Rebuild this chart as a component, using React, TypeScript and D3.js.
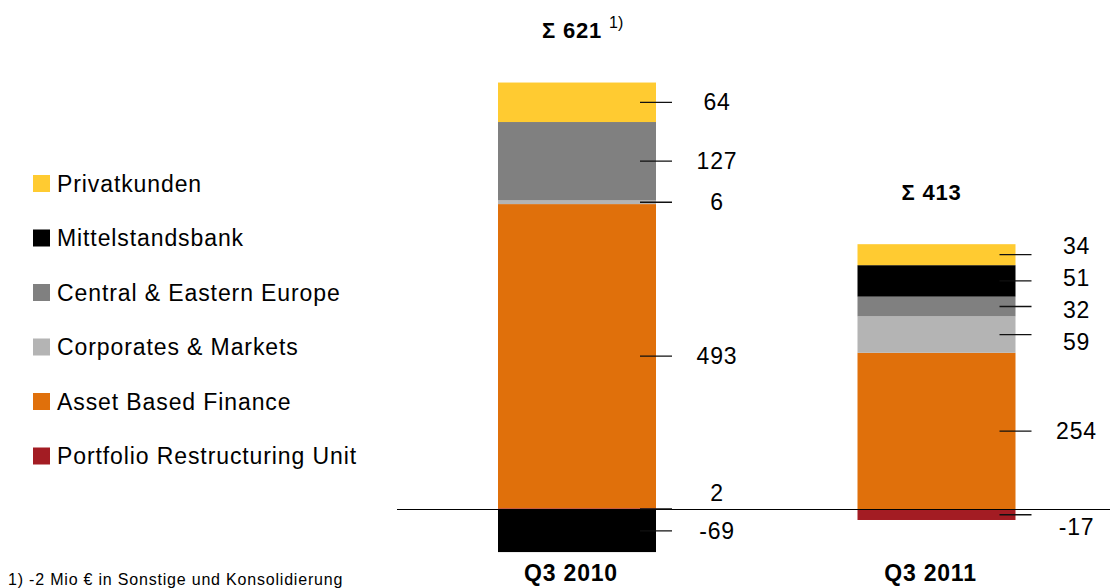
import React from "react";
import * as d3 from "d3";

const categories = ["Q3 2010", "Q3 2011"];
const segments = [
  "Portfolio Restructuring Unit",
  "Asset Based Finance",
  "Corporates & Markets",
  "Central & Eastern Europe",
  "Mittelstandsbank",
  "Privatkunden",
];
const legendOrder = [
  "Privatkunden",
  "Mittelstandsbank",
  "Central & Eastern Europe",
  "Corporates & Markets",
  "Asset Based Finance",
  "Portfolio Restructuring Unit",
];
const privatkunden = [64, 34];
const mittelstandsbank = [-69, 51];
const centralEasternEurope = [127, 32];
const corporatesMarkets = [6, 59];
const assetBasedFinance = [493, 254];
const portfolioRestructuring = [2, -17];
const totals = [621, 413];
const totalNotes = ["1)", ""];
const footnote = "1) -2 Mio € in Sonstige und Konsolidierung";

const colors: Record<string, string> = {
  "Privatkunden": "#FFCB31",
  "Mittelstandsbank": "#000000",
  "Central & Eastern Europe": "#808080",
  "Corporates & Markets": "#B4B4B4",
  "Asset Based Finance": "#E0700B",
  "Portfolio Restructuring Unit": "#A31C23",
};

const W = 1110;
const H = 588;
const FONT = "'Liberation Sans', Arial, Helvetica, sans-serif";

function spread(items: { y: number; key: string }[], gap: number) {
  const sorted = [...items].sort((a, b) => a.y - b.y);
  let clusters = sorted.map((d) => ({ items: [d], center: d.y }));
  let changed = true;
  while (changed) {
    changed = false;
    for (let i = 0; i < clusters.length - 1; i++) {
      const a = clusters[i];
      const b = clusters[i + 1];
      const aEnd = a.center + ((a.items.length - 1) * gap) / 2;
      const bStart = b.center - ((b.items.length - 1) * gap) / 2;
      if (bStart - aEnd < gap) {
        const items2 = [...a.items, ...b.items];
        const center = d3.mean(items2, (d) => d.y)!;
        clusters.splice(i, 2, { items: items2, center });
        changed = true;
        break;
      }
    }
  }
  const out: Record<string, number> = {};
  clusters.forEach((c) => {
    c.items.forEach((d, i) => {
      out[d.key] = c.center + (i - (c.items.length - 1) / 2) * gap;
    });
  });
  return out;
}

export default function App() {
  const rows = categories.map((c, i) => ({
    category: c,
    "Privatkunden": privatkunden[i],
    "Mittelstandsbank": mittelstandsbank[i],
    "Central & Eastern Europe": centralEasternEurope[i],
    "Corporates & Markets": corporatesMarkets[i],
    "Asset Based Finance": assetBasedFinance[i],
    "Portfolio Restructuring Unit": portfolioRestructuring[i],
  }));

  const stack = d3
    .stack<any>()
    .keys(segments)
    .offset(d3.stackOffsetDiverging);
  const series = stack(rows);

  const x = d3
    .scaleBand<string>()
    .domain(categories)
    .range([426.1, 1087.4])
    .paddingInner(0.5605)
    .paddingOuter(0.2);
  const y = d3.scaleLinear().domain([-100, 700]).range([571.2, 77.6]);
  const bw = x.bandwidth();
  const base = y(0);

  const labelData = categories.map((c, i) => {
    const items = series.map((s) => {
      const d = s[i];
      const v = (rows[i] as any)[s.key] as number;
      let ty = y((d[0] + d[1]) / 2);
      let ly = ty;
      if (v >= 0) ly = Math.min(ly, base - 17);
      else ly = Math.max(ly, base + 17);
      return { key: s.key, v, ty, ly };
    });
    const pos = spread(items.map((d) => ({ y: d.ly, key: d.key })), 32);
    return items.map((d) => ({ ...d, ly: pos[d.key] }));
  });

  return (
    <svg width={W} height={H} style={{ position: "absolute", left: 0, top: 0 }} fontFamily={FONT}>
      <rect width={W} height={H} fill="#fff" />
      {series.map((s) =>
        s.map((d, i) => (
          <rect
            key={s.key + i}
            x={x(categories[i])}
            y={y(Math.max(d[0], d[1]))}
            width={bw}
            height={Math.abs(y(d[0]) - y(d[1]))}
            fill={colors[s.key]}
          />
        ))
      )}
      <line x1={397} x2={W} y1={base} y2={base} stroke="#000" strokeWidth={1.2} />
      {labelData.map((items, i) => {
        const right = (x(categories[i]) as number) + bw;
        return items.map((d) => (
          <g key={d.key + i}>
            <line x1={right - 16} x2={right + 16} y1={d.ty} y2={d.ty} stroke="#111" strokeWidth={1.3} />
            <text x={right + 61} y={d.ly} dy="0.35em" textAnchor="middle" fontSize={23} letterSpacing={0.8} fill="#000">
              {d.v}
            </text>
          </g>
        ));
      })}
      {categories.map((c, i) => {
        const cx = (x(c) as number) + bw / 2;
        const top = y(d3.max(series, (s) => s[i][1]) as number);
        return (
          <g key={c}>
            <text x={cx - 5} y={top - 52} dy="0.35em" textAnchor="middle" fontSize={22} letterSpacing={0.8} fontWeight="bold">
              {"Σ " + totals[i]}
            </text>
            {totalNotes[i] && (
              <text x={cx + 32} y={top - 60} dy="0.35em" fontSize={16}>
                {totalNotes[i]}
              </text>
            )}
            <text x={cx - 6} y={573} dy="0.35em" textAnchor="middle" fontSize={23} letterSpacing={0.8} fontWeight="bold">
              {c}
            </text>
          </g>
        );
      })}
      {legendOrder.map((k, i) => {
        const cy = 183.5 + i * 54.5;
        return (
          <g key={k}>
            <rect x={33} y={cy - 8.5} width={17} height={17} fill={colors[k]} />
            <text x={57} y={cy} dy="0.35em" fontSize={23} letterSpacing={0.9}>
              {k}
            </text>
          </g>
        );
      })}
      <text x={8} y={579} dy="0.35em" fontSize={16} letterSpacing={0.8}>
        {footnote}
      </text>
    </svg>
  );
}
